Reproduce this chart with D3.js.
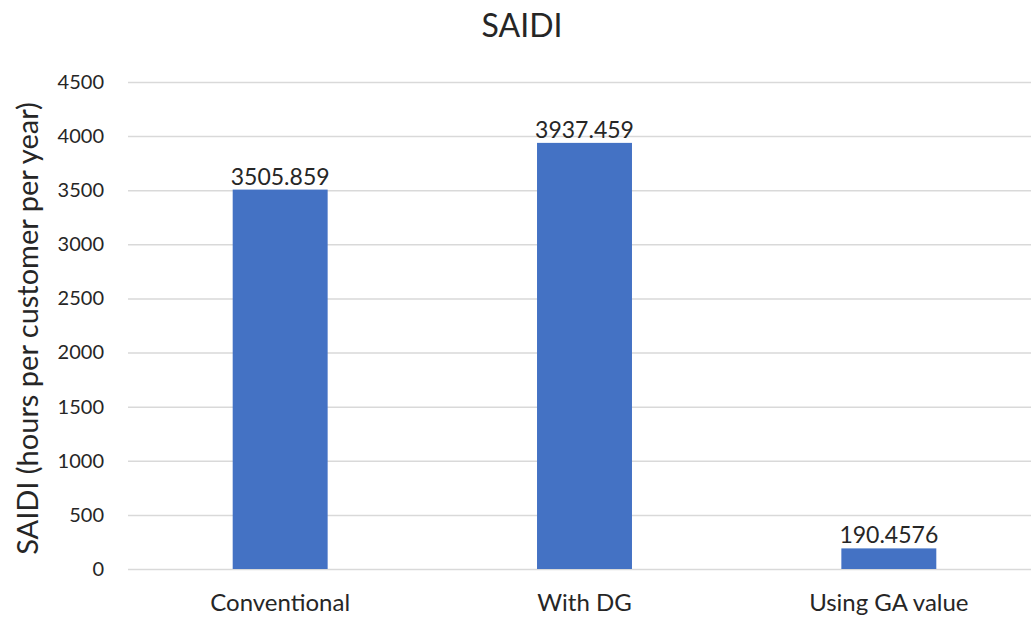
<!DOCTYPE html>
<html><head><meta charset="utf-8">
<script src="https://cdn.jsdelivr.net/npm/d3@7"></script>
<style>body{margin:0;background:#fff;} svg{display:block;font-family:Lato,"Open Sans",sans-serif;}</style>
</head><body>
<svg id="c" width="1031" height="620"></svg>
<script>
const categories = ["Conventional", "With DG", "Using GA value"];
const values = [3505.859, 3937.459, 190.4576];
const valueLabels = ["3505.859", "3937.459", "190.4576"];
const yTicks = [0, 500, 1000, 1500, 2000, 2500, 3000, 3500, 4000, 4500];
const chartTitle = "SAIDI";
const yTitle = "SAIDI (hours per customer per year)";

const svg = d3.select("#c");
const W = 1031, H = 620;
const mLeft = 128, mRight = 1041, mTop = 82, mBottom = 569;
const txt = "#262626";

const x = d3.scaleBand().domain(categories).range([mLeft, mRight]).paddingInner(0.688).paddingOuter(0.344);
const y = d3.scaleLinear().domain([0, 4500]).range([mBottom, mTop]);

// gridlines
svg.append("g").selectAll("line").data(yTicks).join("line")
  .attr("x1", mLeft).attr("x2", W).attr("y1", d => y(d) + 0.5).attr("y2", d => y(d) + 0.5)
  .attr("stroke", "#d9d9d9").attr("stroke-width", 1.5);

// y axis labels
const ya = svg.append("g").attr("transform", `translate(${mLeft - 24},0)`)
  .call(d3.axisLeft(y).tickValues(yTicks).tickFormat(d3.format("d")).tickSize(0).tickPadding(0));
ya.select(".domain").remove();
ya.selectAll("text").attr("font-size", 20).attr("fill", txt).attr("font-family", "Lato");

// bars
svg.append("g").selectAll("rect").data(values).join("rect")
  .attr("x", (d, i) => x(categories[i])).attr("width", x.bandwidth())
  .attr("y", d => y(d)).attr("height", d => y(0) - y(d))
  .attr("fill", "#4472c4");

// value labels
svg.append("g").selectAll("text").data(values).join("text")
  .attr("x", (d, i) => x(categories[i]) + x.bandwidth() / 2)
  .attr("y", d => y(d) - 5)
  .attr("text-anchor", "middle").attr("font-size", 23).attr("fill", txt)
  .text((d, i) => valueLabels[i]);

// x axis labels
const xa = svg.append("g").attr("transform", `translate(0,${mBottom})`)
  .call(d3.axisBottom(x).tickSize(0).tickPadding(0));
xa.select(".domain").remove();
xa.selectAll("text").attr("font-size", 24).attr("fill", txt).attr("font-family", "Lato")
  .attr("dy", null).attr("y", 42);

// title
svg.append("text").attr("x", 522).attr("y", 37).attr("text-anchor", "middle")
  .attr("font-size", 32).attr("fill", txt).text(chartTitle);

// y title
svg.append("text").attr("transform", `translate(38,${(92 + 565) / 2}) rotate(-90)`)
  .attr("text-anchor", "middle").attr("font-size", 29).attr("fill", txt).text(yTitle);
</script>
</body></html>
